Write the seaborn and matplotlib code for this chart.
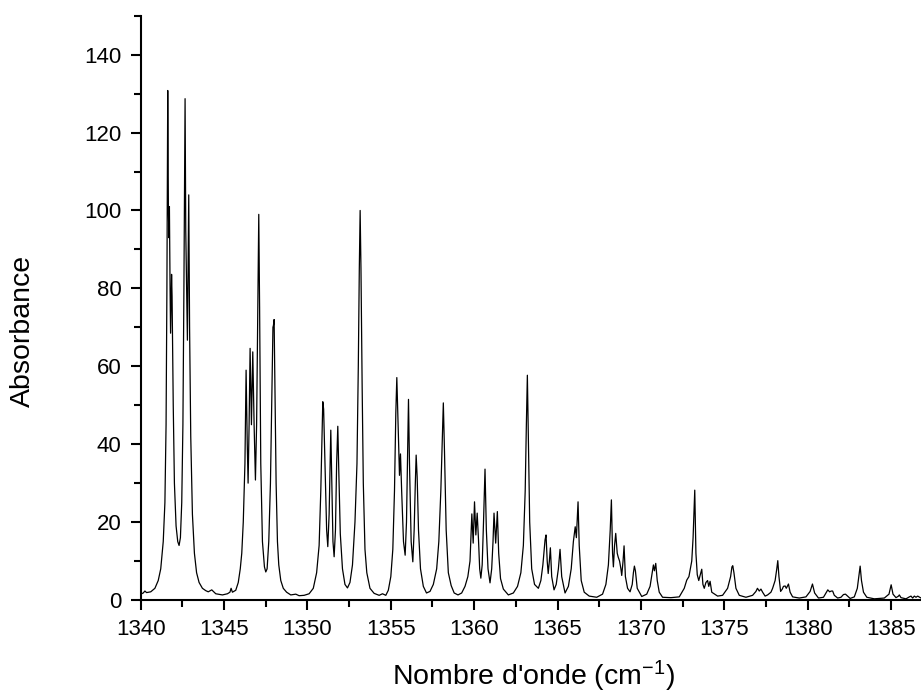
import matplotlib
matplotlib.use("Agg")
import matplotlib.pyplot as plt
from matplotlib.ticker import MultipleLocator
import seaborn as sns
import pandas as pd

# Traced spectrum (wavenumber in cm^-1, absorbance)
wavenumber = [
    1340.00, 1340.15, 1340.25, 1340.35, 1340.60, 1340.85, 1341.05, 1341.20, 1341.35, 1341.45,
    1341.52, 1341.57, 1341.62, 1341.66, 1341.69, 1341.72, 1341.76, 1341.79, 1341.85, 1341.88,
    1341.95, 1342.02, 1342.12, 1342.22, 1342.30, 1342.38, 1342.46, 1342.53, 1342.59, 1342.66,
    1342.70, 1342.75, 1342.80, 1342.88, 1342.93, 1343.00, 1343.10, 1343.22, 1343.35, 1343.50,
    1343.70, 1343.90, 1344.05, 1344.26, 1344.50, 1344.90, 1345.20, 1345.35, 1345.42, 1345.50,
    1345.70, 1345.85, 1345.97, 1346.06, 1346.15, 1346.25, 1346.32, 1346.39, 1346.44, 1346.50,
    1346.56, 1346.64, 1346.72, 1346.80, 1346.88, 1346.95, 1347.02, 1347.08, 1347.13, 1347.20,
    1347.30, 1347.42, 1347.50, 1347.58, 1347.68, 1347.78, 1347.87, 1347.93, 1347.96, 1348.00,
    1348.05, 1348.12, 1348.20, 1348.28, 1348.40, 1348.55, 1348.75, 1349.00, 1349.30, 1349.50,
    1349.80, 1350.10, 1350.35, 1350.55, 1350.70, 1350.80, 1350.87, 1350.92, 1350.97, 1351.05,
    1351.15, 1351.22, 1351.30, 1351.36, 1351.40, 1351.45, 1351.53, 1351.60, 1351.68, 1351.75,
    1351.82, 1351.88, 1351.97, 1352.10, 1352.25, 1352.40, 1352.55, 1352.70, 1352.85, 1352.97,
    1353.05, 1353.11, 1353.16, 1353.21, 1353.28, 1353.35, 1353.45, 1353.56, 1353.75, 1354.00,
    1354.30, 1354.50, 1354.70, 1354.85, 1355.00, 1355.12, 1355.22, 1355.30, 1355.36, 1355.43,
    1355.52, 1355.58, 1355.65, 1355.76, 1355.86, 1355.94, 1356.00, 1356.06, 1356.12, 1356.22,
    1356.32, 1356.40, 1356.47, 1356.52, 1356.58, 1356.66, 1356.78, 1356.95, 1357.14, 1357.35,
    1357.55, 1357.75, 1357.88, 1358.00, 1358.08, 1358.15, 1358.22, 1358.32, 1358.45, 1358.62,
    1358.80, 1359.03, 1359.25, 1359.45, 1359.62, 1359.75, 1359.82, 1359.86, 1359.94, 1360.02,
    1360.10, 1360.18, 1360.26, 1360.33, 1360.40, 1360.48, 1360.56, 1360.65, 1360.73, 1360.83,
    1360.95, 1361.05, 1361.13, 1361.19, 1361.29, 1361.39, 1361.47, 1361.58, 1361.75, 1362.05,
    1362.35, 1362.60, 1362.80, 1362.95, 1363.06, 1363.13, 1363.19, 1363.25, 1363.33, 1363.45,
    1363.62, 1363.85, 1364.00, 1364.12, 1364.25, 1364.31, 1364.38, 1364.44, 1364.51, 1364.57,
    1364.65, 1364.79, 1364.92, 1365.05, 1365.15, 1365.25, 1365.45, 1365.65, 1365.82, 1365.95,
    1366.06, 1366.13, 1366.23, 1366.30, 1366.42, 1366.60, 1366.90, 1367.35, 1367.70, 1367.90,
    1368.05, 1368.16, 1368.23, 1368.30, 1368.35, 1368.42, 1368.49, 1368.58, 1368.64, 1368.72,
    1368.80, 1368.85, 1368.93, 1368.99, 1369.07, 1369.20, 1369.35, 1369.48, 1369.55, 1369.61,
    1369.67, 1369.78, 1370.05, 1370.35, 1370.55, 1370.68, 1370.75, 1370.81, 1370.89, 1370.98,
    1371.10, 1371.30, 1371.80, 1372.30, 1372.60, 1372.75, 1372.88, 1372.95, 1373.05, 1373.13,
    1373.23, 1373.30, 1373.38, 1373.47, 1373.56, 1373.65, 1373.72, 1373.80, 1373.90, 1374.00,
    1374.07, 1374.15, 1374.25, 1374.60, 1374.90, 1375.20, 1375.38, 1375.46, 1375.51, 1375.58,
    1375.70, 1375.90, 1376.30, 1376.70, 1376.90, 1376.99, 1377.10, 1377.20, 1377.30, 1377.45,
    1377.60, 1377.80, 1377.90, 1378.05, 1378.15, 1378.21, 1378.28, 1378.38, 1378.48, 1378.55,
    1378.65, 1378.72, 1378.85, 1378.95, 1379.10, 1379.50, 1379.90, 1380.15, 1380.29, 1380.42,
    1380.65, 1380.95, 1381.10, 1381.21, 1381.32, 1381.42, 1381.50, 1381.60, 1381.80, 1382.00,
    1382.15, 1382.27, 1382.40, 1382.55, 1382.80, 1382.98, 1383.07, 1383.15, 1383.23, 1383.35,
    1383.55, 1384.00, 1384.60, 1384.88, 1385.01, 1385.12, 1385.30, 1385.45, 1385.50, 1385.60,
    1385.90, 1386.10, 1386.20, 1386.30, 1386.40, 1386.50, 1386.60, 1386.80,
]
absorbance = [
    1.5, 1.8, 2.3, 1.9, 2.1, 3.0, 5.0, 8.0, 15.0, 25.0,
    45.0, 80.0, 130.8, 100.0, 93.0, 101.0, 80.0, 68.5, 83.6, 78.0,
    50.0, 30.0, 19.0, 15.0, 14.0, 16.0, 25.0, 45.0, 80.0, 128.7,
    95.0, 80.0, 66.7, 104.0, 70.0, 42.0, 22.0, 12.0, 7.0, 4.5,
    3.0, 2.4, 2.1, 2.6, 1.6, 1.3, 1.6, 2.0, 3.0, 2.0,
    2.5, 4.5, 8.0, 12.0, 20.0, 35.0, 59.0, 40.0, 30.0, 45.0,
    64.6, 45.0, 63.7, 45.0, 30.8, 45.0, 75.0, 99.0, 75.0, 35.0,
    15.0, 8.5, 7.2, 8.0, 15.0, 30.0, 55.0, 70.0, 70.5, 72.0,
    55.0, 30.0, 15.0, 9.0, 5.0, 3.0, 2.0, 1.3, 1.5, 1.1,
    1.2, 1.6, 3.0, 7.0, 14.0, 28.0, 42.0, 50.9, 49.0, 35.0,
    18.0, 13.7, 22.0, 35.0, 43.6, 33.0, 15.0, 11.1, 18.0, 35.0,
    44.6, 33.0, 17.0, 8.0, 4.0, 3.1, 4.5, 9.0, 20.0, 35.0,
    60.0, 85.0, 100.0, 85.0, 55.0, 30.0, 13.0, 7.0, 3.0, 1.7,
    1.2, 1.6, 1.2, 2.5, 6.0, 13.0, 28.0, 48.0, 57.1, 46.2,
    32.0, 37.5, 28.0, 15.0, 11.5, 20.0, 35.0, 51.5, 35.0, 15.0,
    9.8, 18.0, 30.0, 37.2, 31.6, 18.0, 8.0, 3.5, 1.8, 2.2,
    4.0, 8.0, 15.0, 28.0, 40.0, 50.6, 38.0, 18.0, 7.0, 3.7,
    1.8, 1.3, 1.8, 3.5, 6.0, 10.0, 18.0, 22.1, 14.6, 25.2,
    16.7, 22.3, 15.4, 8.0, 5.6, 9.0, 20.0, 33.6, 18.0, 8.0,
    4.4, 8.0, 15.0, 22.3, 14.6, 22.7, 12.0, 5.5, 2.8, 1.3,
    1.8, 3.5, 7.0, 14.0, 28.0, 45.0, 57.7, 42.0, 20.0, 8.0,
    4.0, 3.0, 5.0, 9.0, 15.4, 16.7, 10.0, 6.8, 10.0, 13.4,
    6.0, 2.6, 4.0, 8.0, 13.0, 6.0, 1.8, 3.5, 8.0, 15.0,
    18.8, 16.0, 25.2, 14.0, 5.0, 2.0, 1.0, 0.7, 1.5, 4.0,
    9.0, 18.0, 25.7, 12.0, 8.5, 14.0, 17.1, 12.0, 11.0, 10.0,
    8.0, 6.3, 10.0, 13.9, 6.0, 3.0, 2.1, 4.0, 7.0, 8.7,
    7.5, 3.0, 0.9, 1.5, 3.5, 7.0, 9.0, 7.5, 9.4, 5.0,
    2.0, 0.7, 0.6, 0.8, 3.0, 5.1, 6.0, 7.7, 10.0, 16.0,
    28.2, 12.0, 6.5, 5.0, 6.5, 7.9, 4.0, 3.0, 4.5, 5.0,
    3.5, 4.8, 2.0, 1.0, 1.2, 3.0, 6.0, 8.5, 8.8, 7.0,
    3.0, 1.2, 0.7, 1.2, 2.2, 3.0, 2.3, 2.8, 2.0, 1.0,
    1.3, 2.0, 3.0, 5.0, 8.0, 10.1, 6.0, 2.2, 2.8, 3.5,
    3.6, 3.0, 4.1, 2.0, 0.8, 0.5, 0.8, 2.2, 4.1, 1.8,
    0.5, 0.7, 1.8, 2.6, 2.1, 2.3, 2.3, 1.2, 0.5, 0.7,
    1.4, 1.5, 1.0, 0.4, 0.8, 3.0, 6.0, 8.7, 5.0, 2.0,
    0.7, 0.3, 0.5, 1.5, 3.9, 1.5, 0.6, 1.0, 1.3, 0.6,
    0.3, 0.8, 1.0, 0.5, 1.0, 0.7, 1.0, 0.5,
]

x_label = "Nombre d'onde (cm$^{\\mathregular{-1}}$)"
y_label = "Absorbance"

df = pd.DataFrame({"wavenumber": wavenumber, "absorbance": absorbance})

sns.set_style("ticks")
plt.rcParams["font.family"] = ["Liberation Sans", "DejaVu Sans"]
plt.rcParams["mathtext.fontset"] = "custom"
plt.rcParams["mathtext.rm"] = "Liberation Sans"
plt.rcParams["mathtext.default"] = "regular"
plt.rcParams["text.color"] = "black"
plt.rcParams["axes.labelcolor"] = "black"
plt.rcParams["xtick.color"] = "black"
plt.rcParams["ytick.color"] = "black"

fig = plt.figure(figsize=(9.21, 6.95), dpi=100)
ax = fig.add_axes([0.1528, 0.1367, 0.8472, 0.8407])

sns.lineplot(data=df, x="wavenumber", y="absorbance", color="black",
             linewidth=0.9, estimator=None, sort=False, ax=ax)

ax.set_xlim(1340, 1386.8)
ax.set_ylim(0, 150)
ax.xaxis.set_major_locator(MultipleLocator(5))
ax.xaxis.set_minor_locator(MultipleLocator(2.5))
ax.yaxis.set_major_locator(MultipleLocator(20))
ax.yaxis.set_minor_locator(MultipleLocator(10))

for side in ("top", "right"):
    ax.spines[side].set_visible(False)
for side in ("left", "bottom"):
    ax.spines[side].set_linewidth(1.5)
    ax.spines[side].set_color("black")

ax.tick_params(which="major", direction="out", length=7, width=1.5,
               labelsize=16, pad=7, color="black", labelcolor="black")
ax.tick_params(which="minor", direction="out", length=5, width=1.5, color="black")

ax.set_xlabel(x_label, fontsize=20.5, color="black")
ax.set_ylabel(y_label, fontsize=20.5, color="black")
ax.xaxis.set_label_coords(0.503, -0.101)
ax.yaxis.set_label_coords(-0.134, 0.46)

fig.savefig("out.png", dpi=100)
